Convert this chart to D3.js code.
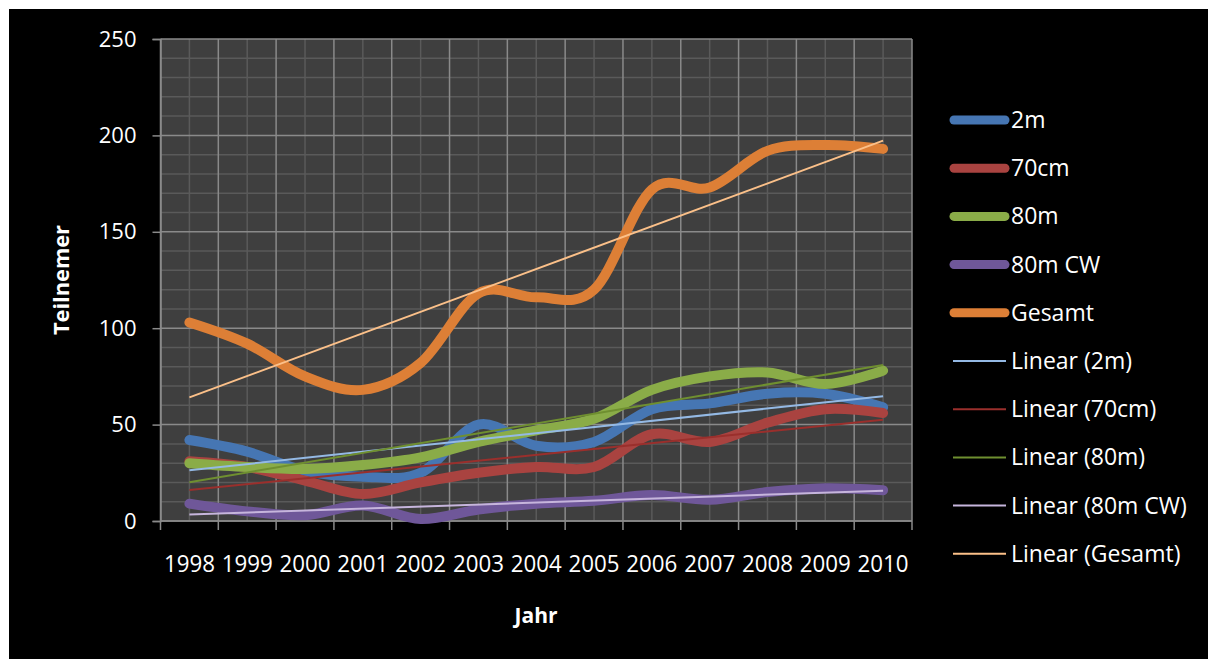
<!DOCTYPE html>
<html>
<head>
<meta charset="utf-8">
<script src="https://cdn.jsdelivr.net/npm/d3@7"></script>
<style>
  html, body { margin: 0; padding: 0; background: #fff; }
  svg { display: block; }
</style>
</head>
<body>
<svg id="chart" width="1208" height="659"></svg>
<script>
// data
let years = ["1998", "1999", "2000", "2001", "2002", "2003", "2004", "2005", "2006", "2007", "2008", "2009", "2010"];
let seriesNames = ["2m", "70cm", "80m", "80m CW", "Gesamt"];
let s2m     = [42, 36, 26, 23, 25, 50, 39, 41, 58, 61, 66, 66, 59];
let s70cm   = [31, 28, 21, 14, 20, 25, 28, 28, 45, 41, 51, 58, 56];
let s80m    = [30, 28, 27, 29, 33, 41, 47, 53, 68, 75, 77, 71, 78];
let s80mCW  = [9, 5, 3, 8, 1, 6, 9, 10.5, 13.5, 11, 15, 17, 16];
let sGesamt = [103, 92, 75, 68, 82, 118, 116, 120, 172, 173, 192, 195, 193];
let yTicks = [0, 50, 100, 150, 200, 250];

let seriesValues = [s2m, s70cm, s80m, s80mCW, sGesamt];
let colors = ["#4676b3", "#a94340", "#8aac48", "#6f5799", "#dd7f36"];
let trendColors = ["#94b9e4", "#9a2f2c", "#6f8f30", "#c6b5dc", "#fbc089"];

let svg = d3.select("#chart");
const W = 1208, H = 659;

// black chart area with white frame on top/left
svg.append("rect").attr("width", W).attr("height", H).attr("fill", "#fff");
svg.append("rect").attr("x", 9).attr("y", 9).attr("width", W - 9).attr("height", H - 9).attr("fill", "#000");

const plot = { left: 160.5, right: 912, top: 39, bottom: 521 };

let xBand = d3.scaleBand().domain(years).range([plot.left, plot.right]);
let xPos = (i) => xBand(years[i]) + xBand.bandwidth() / 2;
let y = d3.scaleLinear().domain([0, 250]).range([plot.bottom, plot.top]);

// plot background
svg.append("rect")
  .attr("x", plot.left).attr("y", plot.top)
  .attr("width", plot.right - plot.left).attr("height", plot.bottom - plot.top)
  .attr("fill", "#3f3f3f");

let grid = svg.append("g");
// minor gridlines
grid.selectAll("line.hmin")
  .data(d3.range(0, 251, 10).filter((v) => v % 50 !== 0))
  .join("line")
  .attr("x1", plot.left).attr("x2", plot.right)
  .attr("y1", (d) => y(d)).attr("y2", (d) => y(d))
  .attr("stroke", "#5a5a5a").attr("stroke-width", 1.5);
grid.selectAll("line.vmin")
  .data(years)
  .join("line")
  .attr("x1", (d, i) => xPos(i)).attr("x2", (d, i) => xPos(i))
  .attr("y1", plot.top).attr("y2", plot.bottom)
  .attr("stroke", "#5a5a5a").attr("stroke-width", 1.5);
// major gridlines
let bounds = years.map((d) => xBand(d)).concat([plot.right]);
grid.selectAll("line.vmaj")
  .data(bounds)
  .join("line")
  .attr("x1", (d) => d).attr("x2", (d) => d)
  .attr("y1", plot.top).attr("y2", plot.bottom)
  .attr("stroke", "#8a8a8a").attr("stroke-width", 1.5);
grid.selectAll("line.hmaj")
  .data(yTicks)
  .join("line")
  .attr("x1", plot.left).attr("x2", plot.right)
  .attr("y1", (d) => y(d)).attr("y2", (d) => y(d))
  .attr("stroke", "#8a8a8a").attr("stroke-width", 1.5);

// axes
let yAxis = svg.append("g")
  .attr("transform", `translate(${plot.left},0)`)
  .call(d3.axisLeft(y).tickValues(yTicks).tickSize(8).tickPadding(16));
yAxis.select(".domain").attr("stroke", "#8a8a8a").attr("stroke-width", 1.5);
yAxis.selectAll(".tick line").attr("stroke", "#8a8a8a").attr("stroke-width", 1.5);
yAxis.selectAll("text")
  .attr("fill", "#fff")
  .style("font-family", "'Open Sans', sans-serif")
  .style("font-size", "22px");

// x axis: ticks at category boundaries, labels at centers
let xAxisG = svg.append("g");
xAxisG.append("line")
  .attr("x1", plot.left).attr("x2", plot.right)
  .attr("y1", plot.bottom).attr("y2", plot.bottom)
  .attr("stroke", "#8a8a8a").attr("stroke-width", 1.5);
xAxisG.selectAll("line.tick")
  .data(bounds)
  .join("line")
  .attr("x1", (d) => d).attr("x2", (d) => d)
  .attr("y1", plot.bottom).attr("y2", plot.bottom + 9)
  .attr("stroke", "#8a8a8a").attr("stroke-width", 1.5);
xAxisG.selectAll("text")
  .data(years)
  .join("text")
  .attr("x", (d, i) => xPos(i))
  .attr("y", 572)
  .attr("text-anchor", "middle")
  .attr("fill", "#fff")
  .style("font-family", "'Open Sans', sans-serif")
  .style("font-size", "23px")
  .attr("textLength", 51)
  .attr("lengthAdjust", "spacingAndGlyphs")
  .text((d) => d);

// axis titles
svg.append("text")
  .attr("transform", "translate(69,280) rotate(-90)")
  .attr("text-anchor", "middle")
  .attr("fill", "#fff")
  .style("font-family", "'Open Sans', sans-serif")
  .style("font-weight", "bold")
  .style("font-size", "21px")
  .attr("textLength", 110)
  .attr("lengthAdjust", "spacingAndGlyphs")
  .text("Teilnemer");
svg.append("text")
  .attr("x", 536).attr("y", 623)
  .attr("text-anchor", "middle")
  .attr("fill", "#fff")
  .style("font-family", "'Open Sans', sans-serif")
  .style("font-weight", "bold")
  .style("font-size", "21px")
  .text("Jahr");

// smoothed series
let line = d3.line()
  .x((d, i) => xPos(i))
  .y((d) => y(d))
  .curve(d3.curveCardinal.tension(0));

svg.append("g")
  .selectAll("path")
  .data(seriesValues)
  .join("path")
  .attr("d", (d) => line(d))
  .attr("fill", "none")
  .attr("stroke", (d, i) => colors[i])
  .attr("stroke-width", 10)
  .attr("stroke-linecap", "round")
  .attr("stroke-linejoin", "round");

// linear trend lines (least squares)
function linFit(vals) {
  let n = vals.length;
  let mx = d3.mean(d3.range(n));
  let my = d3.mean(vals);
  let sxy = d3.sum(vals, (v, i) => (i - mx) * (v - my));
  let sxx = d3.sum(d3.range(n), (i) => (i - mx) * (i - mx));
  let b = sxy / sxx;
  return [my - b * mx, b];
}

svg.append("g")
  .selectAll("line")
  .data(seriesValues.map(linFit))
  .join("line")
  .attr("x1", xPos(0))
  .attr("x2", xPos(years.length - 1))
  .attr("y1", (d) => y(d[0]))
  .attr("y2", (d) => y(d[0] + d[1] * (years.length - 1)))
  .attr("stroke", (d, i) => trendColors[i])
  .attr("stroke-width", 2);

// legend
let legendItems = seriesNames.map((n, i) => ({ name: n, color: colors[i], thick: true }))
  .concat(seriesNames.map((n, i) => ({ name: "Linear (" + n + ")", color: trendColors[i], thick: false })));

let legend = svg.append("g");
let lg = legend.selectAll("g")
  .data(legendItems)
  .join("g")
  .attr("transform", (d, i) => `translate(0,${120 + i * 48.2})`);
lg.append("line")
  .attr("x1", (d) => (d.thick ? 954 : 953))
  .attr("x2", (d) => (d.thick ? 1005 : 1006))
  .attr("stroke", (d) => d.color)
  .attr("stroke-width", (d) => (d.thick ? 9 : 2))
  .attr("stroke-linecap", (d) => (d.thick ? "round" : "butt"));
lg.append("text")
  .attr("x", 1011)
  .attr("dy", "0.35em")
  .attr("fill", "#fff")
  .style("font-family", "'Open Sans', sans-serif")
  .style("font-size", "23px")
  .text((d) => d.name);
</script>
</body>
</html>
